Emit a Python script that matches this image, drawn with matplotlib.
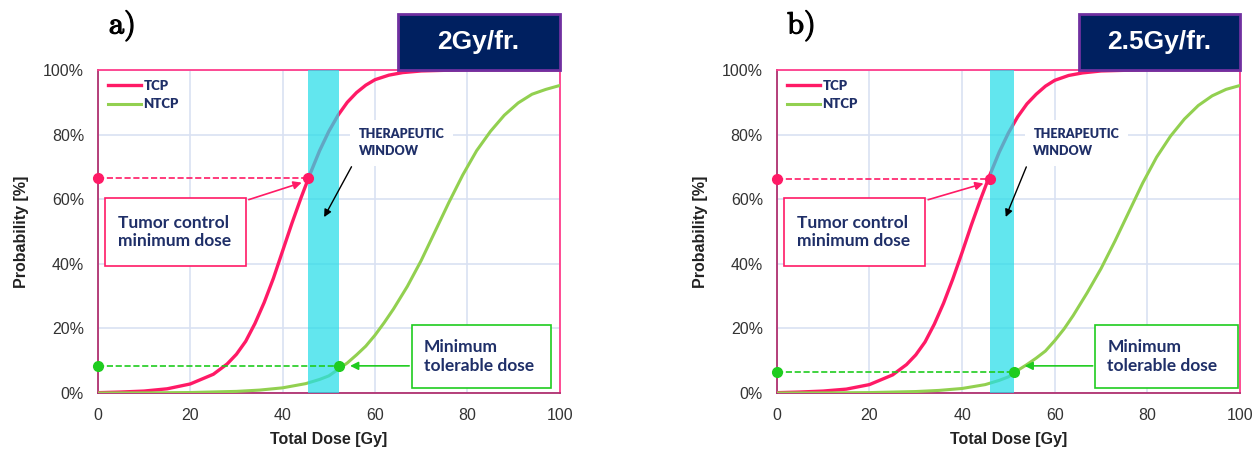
import matplotlib
matplotlib.use("Agg")
import matplotlib.pyplot as plt
import matplotlib.patheffects as pe
from matplotlib.patches import Rectangle

plt.rcParams['font.family'] = ['Liberation Sans', 'DejaVu Sans']
plt.rcParams['mathtext.fontset'] = 'cm'

# ---- data ----
dose_tcp = [0, 5, 10, 15, 20, 25, 28, 30, 32, 34, 36, 38, 40, 42, 44, 46, 48, 50,
            52, 54, 56, 58, 60, 63, 66, 70, 75, 80, 90, 100]
tcp_a = [0.1, 0.3, 0.6, 1.3, 2.8, 5.8, 9.0, 12.0, 16.0, 21.5, 28.0, 35.5, 44.0, 52.5,
         60.5, 68.0, 75.0, 81.0, 86.0, 90.0, 93.0, 95.3, 97.0, 98.4, 99.2, 99.7, 99.9,
         100, 100, 100]
tcp_b = [0.1, 0.3, 0.6, 1.2, 2.6, 5.6, 8.8, 11.8, 15.8, 21.3, 27.8, 35.3, 43.5, 52.0,
         60.0, 67.5, 74.5, 80.5, 85.5, 89.5, 92.5, 95.0, 96.8, 98.3, 99.1, 99.7, 99.9,
         100, 100, 100]

dose_ntcp = [0, 10, 20, 30, 35, 40, 45, 48, 50, 52, 54, 56, 58, 60, 62, 64, 67, 70,
             73, 76, 79, 82, 85, 88, 91, 94, 97, 100]
ntcp_a = [0.0, 0.05, 0.15, 0.5, 0.9, 1.6, 2.9, 4.2, 5.3, 7.3, 9.3, 11.8, 14.5, 17.9,
          21.8, 26.0, 33.0, 41.0, 50.0, 59.0, 67.5, 75.0, 81.0, 86.0, 89.8, 92.5,
          94.0, 95.2]
ntcp_b = [0.0, 0.04, 0.13, 0.45, 0.8, 1.4, 2.6, 3.9, 5.0, 7.0, 8.8, 10.8, 13.0, 16.2,
          19.8, 24.0, 31.0, 38.5, 47.0, 56.0, 65.0, 73.0, 79.5, 84.8, 89.0, 92.0,
          94.0, 95.2]

panel_labels = ['a)', 'b)']
fraction_labels = ['2Gy/fr.', '2.5Gy/fr.']
tcp_point = [(45.6, 66.6), (46.1, 66.3)]     # tumor control minimum dose
ntcp_point = [(52.3, 8.3), (51.2, 6.5)]      # minimum tolerable dose

PINK = '#FF1A66'
GREEN_LINE = '#92D050'
GREEN_MARK = '#1FCC1F'
NAVY = '#1F2F68'
CYAN = '#25DDE8'

fig = plt.figure(figsize=(12.55, 4.51), dpi=100)
axes_pos = [[0.078, 0.1286, 0.368, 0.7162], [0.619, 0.1286, 0.369, 0.7162]]

series = [(tcp_a, ntcp_a), (tcp_b, ntcp_b)]
for i in range(2):
    ax = fig.add_axes(axes_pos[i])
    tcp, ntcp = series[i]
    tx, ty = tcp_point[i]
    nx, ny = ntcp_point[i]

    ax.plot(dose_tcp, tcp, color=PINK, lw=2.4, label='TCP', zorder=3)
    ax.plot(dose_ntcp, ntcp, color=GREEN_LINE, lw=2.2, label='NTCP', zorder=3)

    # therapeutic window band
    ax.axvspan(tx, nx, color=CYAN, alpha=0.72, lw=0, zorder=4)

    # dashed reference lines with dots
    ax.plot([0, tx], [ty, ty], ls='--', color=PINK, lw=1.2, zorder=5)
    ax.plot([0, tx], [ty, ty], 'o', color=PINK, ms=7, zorder=6, clip_on=False)
    ax.plot([0, nx], [ny, ny], ls='--', color=GREEN_MARK, lw=1.2, zorder=5)
    ax.plot([0, nx], [ny, ny], 'o', color=GREEN_MARK, ms=7, zorder=6, clip_on=False)

    ax.set_xlim(0, 100)
    ax.set_ylim(0, 100)
    ax.set_xticks([0, 20, 40, 60, 80, 100])
    ax.set_yticks([0, 20, 40, 60, 80, 100])
    ax.set_yticklabels([f'{v}%' for v in range(0, 101, 20)])
    ax.tick_params(length=0, labelsize=11.5, labelcolor='#333333')
    ax.tick_params(axis='x', pad=11)
    ax.tick_params(axis='y', pad=10)
    ax.grid(color='#D9E1F2', lw=1.2, zorder=0)
    ax.set_axisbelow(True)
    for s in ['top', 'right']:
        ax.spines[s].set_color('#FF3D8B')
        ax.spines[s].set_linewidth(1.3)
    for s in ['left', 'bottom']:
        ax.spines[s].set_color('#B03070')
        ax.spines[s].set_linewidth(1.3)

    ax.set_xlabel('Total Dose [Gy]', fontsize=11.5, fontweight='bold', color='#222222',
                  labelpad=6)
    ax.set_ylabel('Probability [%]', fontsize=11.5, fontweight='bold', color='#222222',
                  labelpad=10)

    leg = ax.legend(loc='upper left', frameon=False, handlelength=2.5,
                    handletextpad=0.2, labelspacing=0.5, borderaxespad=0.35,
                    prop={'family': 'Lato', 'weight': 'heavy', 'size': 9.5})
    for t in leg.get_texts():
        t.set_color(NAVY)

    # tumor control box
    ax.add_patch(Rectangle((1.5, 39.3), 30.6, 21.1, fc='white', ec=PINK, lw=1.2,
                           zorder=7))
    ax.text(4.3, 49.8, 'Tumor control\nminimum dose', fontsize=12.5, family='Lato',
            fontweight='bold', color=NAVY, va='center', ha='left', zorder=8,
            linespacing=1.2)
    ax.annotate('', xy=(tx - 0.9, ty - 1.2), xytext=(32.1, 59.6),
                arrowprops=dict(arrowstyle='-|>', color=PINK, lw=1.2,
                                mutation_scale=12), zorder=7)

    # therapeutic window
    tw_x = [56.5, 55.4][i]
    ax.text(tw_x, 77.5, 'THERAPEUTIC\nWINDOW', fontsize=9, family='Lato',
            fontweight='heavy', color=NAVY, va='center', ha='left', zorder=8,
            linespacing=1.5,
            bbox=dict(fc='white', ec='none', pad=6))
    ax.annotate('', xy=(tx + 3.1, 53.7), xytext=(tw_x - 1.3, 70.8),
                arrowprops=dict(arrowstyle='-|>', color='black', lw=1.0,
                                mutation_scale=11), zorder=7)

    # minimum tolerable dose box
    gx0 = [68.0, 68.8][i]
    gx1 = [98.1, 99.6][i]
    ax.add_patch(Rectangle((gx0, 1.7), gx1 - gx0, 19.5,
                           fc='white', ec=GREEN_MARK, lw=1.2, zorder=7))
    ax.text(gx0 + 2.6, 11.3, 'Minimum\ntolerable dose', fontsize=12.5, family='Lato',
            fontweight='bold', color=NAVY, va='center', ha='left', zorder=8,
            linespacing=1.2)
    ax.annotate('', xy=(nx + 1.7, 8.4), xytext=(gx0, 8.4),
                arrowprops=dict(arrowstyle='-|>', color=GREEN_MARK, lw=1.2,
                                mutation_scale=12), zorder=7)

    # fraction title box
    bx0 = [0.649, 0.652][i]
    ax.add_patch(Rectangle((bx0, 1.0), 1.0 - bx0, 0.172, transform=ax.transAxes,
                           fc='#002060', ec='#7030A0', lw=2, clip_on=False, zorder=9))
    ax.text((bx0 + 1.0) / 2, 1.088, fraction_labels[i], transform=ax.transAxes,
            fontsize=19, fontweight='bold', color='white', ha='center', va='center',
            zorder=10)

    # panel letter
    ax.text(0.052, 1.135, r'$\mathrm{' + panel_labels[i] + '}$', transform=ax.transAxes,
            fontsize=22, ha='center', va='center', color='black',
            path_effects=[pe.withStroke(linewidth=0.9, foreground='black')])

fig.savefig('out.png', dpi=100)
